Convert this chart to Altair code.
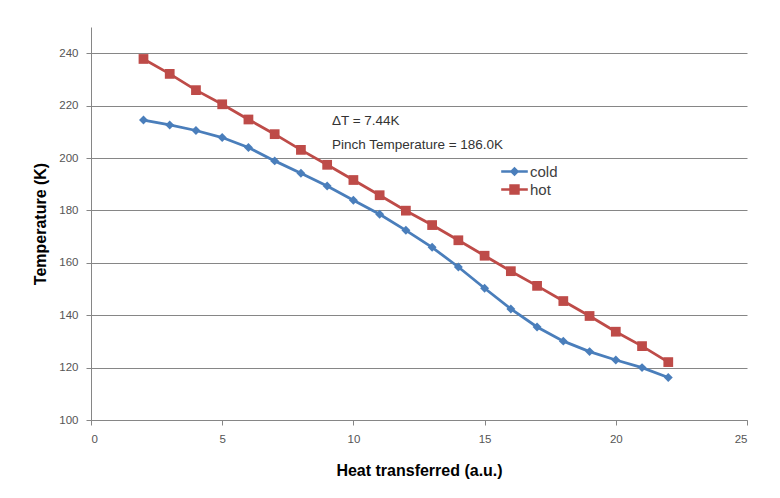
import altair as alt
import pandas as pd

x_vals = list(range(2, 23))
cold = [214.5, 212.6, 210.5, 207.8, 204.0, 198.9, 194.2, 189.3, 183.9, 178.5, 172.4,
        165.9, 158.4, 150.3, 142.4, 135.5, 130.1, 126.1, 122.9, 120.0, 116.2]
hot = [237.8, 232.1, 225.9, 220.5, 214.7, 209.1, 203.1, 197.4, 191.6, 185.8, 179.9,
       174.4, 168.6, 162.7, 156.8, 151.2, 145.4, 139.7, 133.7, 128.2, 122.1]
series_names = ["cold", "hot"]
series_colors = ["#4A7EBB", "#BE4B48"]
series_shapes = ["diamond", "square"]

ann_text = ["\u0394T = 7.44K", "Pinch Temperature = 186.0K"]
ann_x = [9.18, 9.18]
ann_y = [214.2, 205.0]

y_ticks = [100, 120, 140, 160, 180, 200, 220, 240]
x_ticks = [0, 5, 10, 15, 20, 25]

rows = []
for name, vals in zip(series_names, [cold, hot]):
    for xv, tv in zip(x_vals, vals):
        rows.append({"x": xv, "T": tv, "series": name})
df = pd.DataFrame(rows)
ann = pd.DataFrame({"x": ann_x, "y": ann_y, "text": ann_text})

FONT = "Liberation Sans"

xscale = alt.Scale(domain=[0, 25], nice=False, zero=False)
yscale = alt.Scale(domain=[100, 250], nice=False, zero=False)
cscale = alt.Scale(domain=series_names, range=series_colors)

xenc = alt.X("x:Q", scale=xscale, axis=alt.Axis(
    values=x_ticks, grid=False, title="Heat transferred (a.u.)",
    tickSize=5, labelPadding=8, titlePadding=18))
yenc = alt.Y("T:Q", scale=yscale, axis=alt.Axis(
    values=y_ticks, grid=True, title="Temperature (K)",
    tickSize=5, labelPadding=8, titlePadding=10))

legend_paths = ["M-1.4,-0.14H1.4V0.14H-1.4ZM0,-0.5L0.5,0L0,0.5L-0.5,0Z",
                "M-1.4,-0.14H1.4V0.14H-1.4ZM-0.55,-0.55H0.55V0.55H-0.55Z"]
legend_y = [135, 153]

lines = alt.Chart(df).mark_line(strokeWidth=2.8).encode(
    x=xenc, y=yenc,
    color=alt.Color("series:N", scale=cscale, legend=None),
)

layers = [lines]
for name, col, shp, sz in zip(series_names, series_colors, series_shapes, [80, 95]):
    layers.append(
        alt.Chart(df).transform_filter(f"datum.series == '{name}'").mark_point(
            filled=True, opacity=1, size=sz, shape=shp).encode(
            x="x:Q", y="T:Q",
            color=alt.Color("series:N", scale=cscale, legend=None),
        )
    )

for name, col, path, ly in zip(series_names, series_colors, legend_paths, legend_y):
    leg = alt.Legend(
        title=None, orient="none", legendX=414, legendY=ly,
        symbolSize=361, symbolStrokeWidth=0, symbolOpacity=1,
        symbolFillColor=col, symbolStrokeColor=col,
        labelFontSize=15, labelFont=FONT, labelColor="#404040",
        labelOffset=6, rowPadding=0)
    layers.append(
        alt.Chart(df).transform_filter(f"datum.series == '{name}'").mark_point(
            filled=True, opacity=0, color=col).encode(
            x="x:Q", y="T:Q",
            shape=alt.Shape("series:N", scale=alt.Scale(domain=[name], range=[path]), legend=leg),
        )
    )

text = alt.Chart(ann).mark_text(align="left", baseline="middle", fontSize=13.5,
                                font=FONT, color="#333333").encode(
    x="x:Q", y="y:Q", text="text:N")
layers.append(text)

chart = alt.layer(*layers).resolve_scale(shape="independent").properties(
    width=656, height=393,
    autosize=alt.AutoSizeParams(type="none"),
    padding={"left": 83, "top": 19, "right": 25, "bottom": 70},
).configure_view(stroke=None).configure_axis(
    domainColor="#868686", tickColor="#868686", gridColor="#868686",
    labelFont=FONT, labelFontSize=11.5, labelColor="#555555",
    titleFont=FONT, titleFontSize=16, titleFontWeight="bold", titleColor="#000000",
    domainWidth=1, gridWidth=1,
).configure_legend(padding=0)

chart.save("out.html", embed_options={"renderer": "svg", "actions": False})
